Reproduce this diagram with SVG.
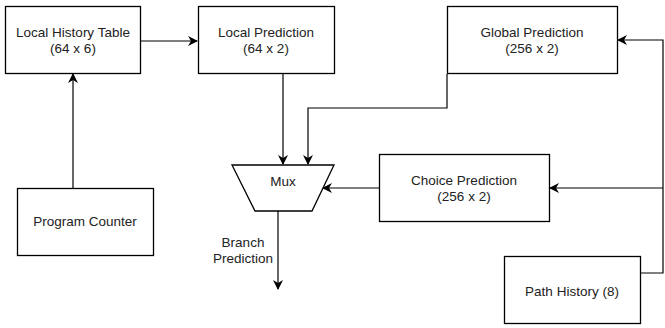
<svg xmlns="http://www.w3.org/2000/svg" width="665" height="328" viewBox="0 0 665 328">
<defs>
<marker id="ah" viewBox="0 0 10 10" refX="9" refY="5" markerWidth="10" markerHeight="10" markerUnits="userSpaceOnUse" orient="auto">
<path d="M0,0 L10,5 L0,10 L3,5 Z" fill="#000"/>
</marker>
<style>
.box{fill:#fff;stroke:#000;stroke-width:1.3}
.t{font-family:"Liberation Sans",Arial,sans-serif;font-size:13.5px;fill:#222;text-anchor:middle}
.c{fill:none;stroke:#000;stroke-width:1.2}
</style>
</defs>
<rect width="665" height="328" fill="#fff"/>
<g id="connectors">
<path class="c" d="M73,188 V74" marker-end="url(#ah)"/>
<path class="c" d="M141,41 H197" marker-end="url(#ah)"/>
<path class="c" d="M283,74 V164" marker-end="url(#ah)"/>
<path class="c" d="M447,74 V108 H308 V164" marker-end="url(#ah)"/>
<path class="c" d="M379,188 H323" marker-end="url(#ah)"/>
<path class="c" d="M641,273 H663 V40 H618" marker-end="url(#ah)"/>
<path class="c" d="M663,188 H550" marker-end="url(#ah)"/>
<path class="c" d="M278,211 V289" marker-end="url(#ah)"/>
<text class="t" x="243" y="247">Branch</text>
<text class="t" x="243" y="263">Prediction</text>
</g>
<g id="lht">
<rect class="box" x="5.5" y="6.5" width="135" height="67"/>
<text class="t" x="73" y="37">Local History Table</text>
<text class="t" x="73" y="53">(64 x 6)</text>
</g>
<g id="lp">
<rect class="box" x="198.5" y="6.5" width="136" height="67"/>
<text class="t" x="266" y="37">Local Prediction</text>
<text class="t" x="266" y="53">(64 x 2)</text>
</g>
<g id="gp">
<rect class="box" x="447.5" y="6.5" width="170" height="67"/>
<text class="t" x="532" y="37">Global Prediction</text>
<text class="t" x="532" y="53">(256 x 2)</text>
</g>
<g id="mux">
<path class="box" d="M232,165 H334 L312,211 H255 Z"/>
<text class="t" x="283" y="186">Mux</text>
</g>
<g id="cp">
<rect class="box" x="379.5" y="154.5" width="170" height="67"/>
<text class="t" x="464" y="185">Choice Prediction</text>
<text class="t" x="464" y="201">(256 x 2)</text>
</g>
<g id="pc">
<rect class="box" x="17.5" y="188.5" width="136" height="67"/>
<text class="t" x="85" y="226">Program Counter</text>
</g>
<g id="ph">
<rect class="box" x="504.5" y="256.5" width="136" height="67"/>
<text class="t" x="572" y="296">Path History (8)</text>
</g>
</svg>
